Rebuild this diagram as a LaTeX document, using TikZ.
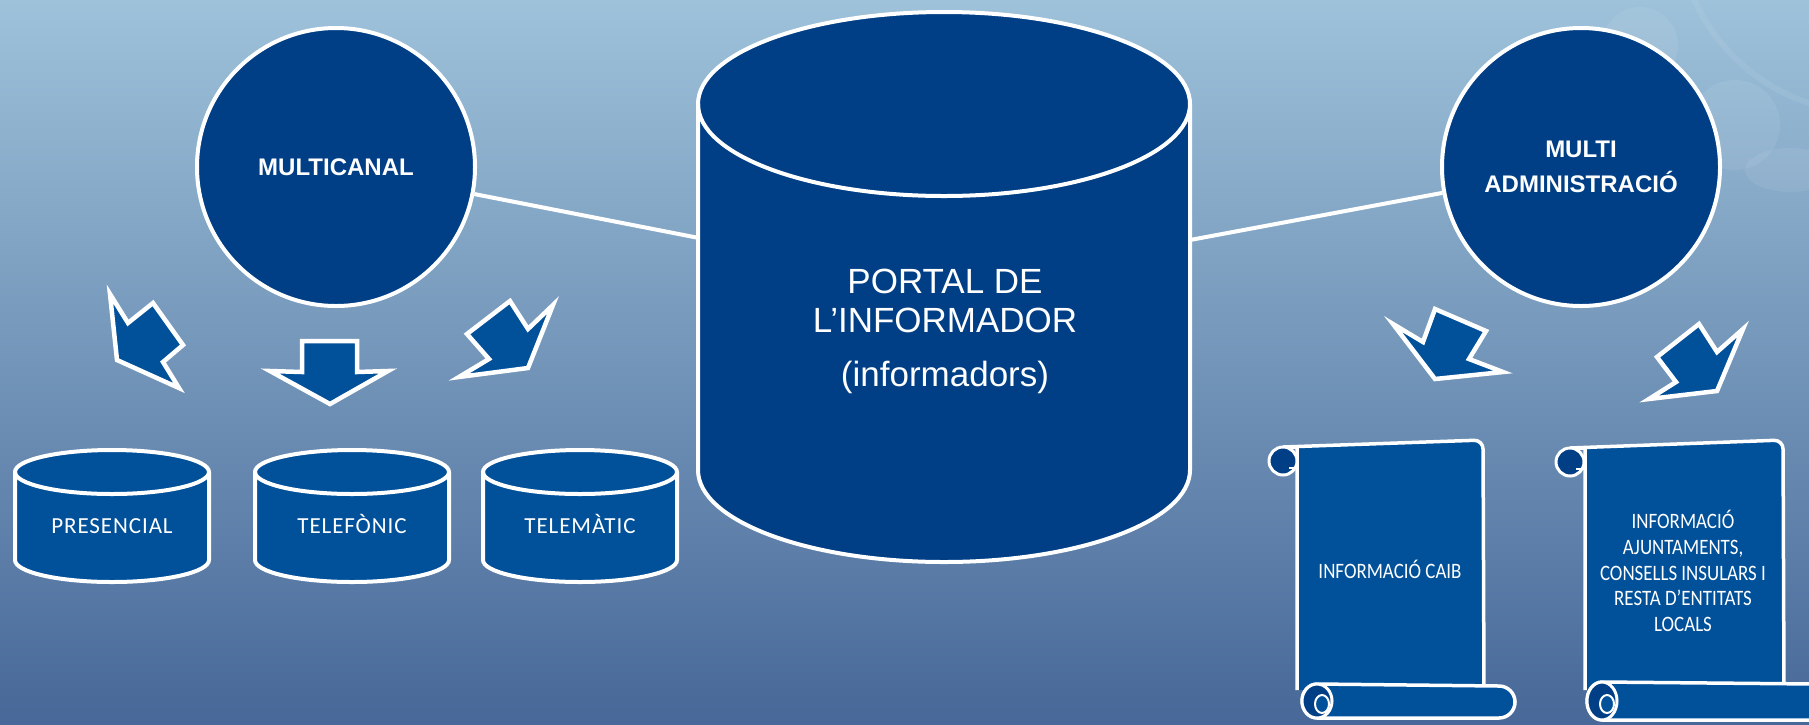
\documentclass[tikz,border=0pt]{standalone}
\usepackage{fontspec}
\setmainfont{Liberation Sans}
\newfontfamily\calibri{Carlito}
\newfontfamily\calibriample{Carlito}[LetterSpace=4]
\newfontfamily\calibriestret{Carlito}[FakeStretch=0.86]
\definecolor{fonsdalt}{HTML}{9EC2DA}
\definecolor{fonsbaix}{HTML}{476898}
\definecolor{blaufosc}{HTML}{003E86}
\definecolor{blau}{HTML}{00509A}
\tikzset{
  cercle/.style={circle, draw=white, line width=4pt, fill=blaufosc, minimum size=278pt,
    inner sep=0pt, text=white, align=center, font=\bfseries\fontsize{24}{35}\selectfont},
  enllac/.style={draw=white, line width=4pt},
  fletxa/.style={fill=blau, draw=white, line width=4.5pt, line join=miter},
  bidon/.style={fill=blau, draw=white, line width=4pt},
  vora/.style={draw=white, line width=4pt},
  rotlle/.style={fill=blau, draw=white, line width=3.5pt},
  espiral/.style={fill=blaufosc, draw=white, line width=3pt},
  marca/.style={white, opacity=0.07},
  etiqueta/.style={text=white, inner sep=0pt, font=\calibriample\fontsize{23}{26}\selectfont},
  rotlletext/.style={text=white, inner sep=0pt, align=center, font=\calibriestret\fontsize{22}{25.7}\selectfont},
  portaltext/.style={text=white, inner sep=0pt, align=center, font=\fontsize{35}{39}\selectfont}
}
\begin{document}
\begin{tikzpicture}[x=1pt, y=-1pt]
\useasboundingbox (0,0) rectangle (1809,724);
\fill[top color=fonsdalt, bottom color=fonsbaix] (0,0) rectangle (1809,724);
\draw[marca, line width=6pt] (1870,-80) circle[radius=193];
\fill[marca] (1640,45) circle[radius=38];
\fill[marca] (1735,125) circle[radius=45];
\fill[marca] (1790,170) ellipse[x radius=45, y radius=22];

\path[fill=blaufosc, draw=white, line width=4pt] (698,104) -- (698,470) arc[start angle=180, end angle=0, x radius=246, y radius=92] -- (1190,104) arc[start angle=0, end angle=-180, x radius=246, y radius=92] -- cycle;
\draw[vora] (698,104) arc[start angle=180, end angle=0, x radius=246, y radius=92];
\node[portaltext] (portal) at (945,331) {PORTAL DE\\L’INFORMADOR\\[15pt](informadors)};
\coordinate (portalW) at (699,238);
\coordinate (portalE) at (1190,240);

\node[cercle] (multicanal) at (336,167) {MULTICANAL};
\node[cercle] (multiadmin) at (1581,167) {MULTI\\ADMINISTRACIÓ};
\draw[enllac] (multicanal) -- (portalW);
\draw[enllac] (multiadmin) -- (portalE);

\path[bidon] (15,472) -- (15,560) arc[start angle=180, end angle=0, x radius=97, y radius=22] -- (209,472) arc[start angle=0, end angle=-180, x radius=97, y radius=22] -- cycle;
\draw[vora] (15,472) arc[start angle=180, end angle=0, x radius=97, y radius=22];
\node[etiqueta, anchor=base] (presencial) at (112,533) {PRESENCIAL};
\path[bidon] (255,472) -- (255,560) arc[start angle=180, end angle=0, x radius=97, y radius=22] -- (449,472) arc[start angle=0, end angle=-180, x radius=97, y radius=22] -- cycle;
\draw[vora] (255,472) arc[start angle=180, end angle=0, x radius=97, y radius=22];
\node[etiqueta, anchor=base] (telefonic) at (352,533) {TELEFÒNIC};
\path[bidon] (483,472) -- (483,560) arc[start angle=180, end angle=0, x radius=97, y radius=22] -- (677,472) arc[start angle=0, end angle=-180, x radius=97, y radius=22] -- cycle;
\draw[vora] (483,472) arc[start angle=180, end angle=0, x radius=97, y radius=22];
\node[etiqueta, anchor=base] (telematic) at (580,533) {TELEMÀTIC};

\draw[fletxa] (110,294) -- (128,323) -- (153,303) -- (183,345) -- (163,362) -- (179,388) -- (117,360) -- cycle;
\draw[fletxa] (302,341) -- (357,341) -- (357,372) -- (388,371) -- (330,404) -- (270,371) -- (302,372) -- cycle;
\draw[fletxa] (510,301) -- (528,329) -- (553,305) -- (528,368) -- (459,377) -- (489,359) -- (467,334) -- cycle;
\draw[fletxa] (1435,309) -- (1486,331) -- (1469,359) -- (1503,372) -- (1435,379) -- (1393,324) -- (1423,342) -- cycle;
\draw[fletxa] (1699,324) -- (1717,352) -- (1743,329) -- (1717,391) -- (1649,399) -- (1676,382) -- (1657,357) -- cycle;

\path[rotlle] (1297,690) -- (1297,447) -- (1283,447) [rounded corners=9pt] -- (1483,440) -- (1484,690);
\path[espiral] (1283,461) circle[radius=14];
\draw[white, line width=2.5pt] (1289,468) -- (1299,468);
\path[rotlle] (1317,684) -- (1499,686) arc[start angle=-90, end angle=90, radius=16] -- (1317,718) arc[start angle=90, end angle=270, x radius=15, y radius=17] -- cycle;
\path[espiral] (1317,701) ellipse[x radius=15, y radius=17];
\path[fill=blau, draw=white, line width=2pt] (1322,704) ellipse[x radius=7, y radius=9];
\node[rotlletext, anchor=base] (caib) at (1390,578) {INFORMACIÓ CAIB};

\path[rotlle] (1585,690) -- (1585,448) -- (1570,448) [rounded corners=9pt] -- (1783,440) -- (1784,690);
\path[espiral] (1570,462) circle[radius=14];
\draw[white, line width=2.5pt] (1576,469) -- (1586,469);
\path[rotlle] (1602,682) -- (1815,684) arc[start angle=-90, end angle=90, radius=18] -- (1602,720) arc[start angle=90, end angle=270, x radius=15, y radius=19] -- cycle;
\path[espiral] (1602,701) ellipse[x radius=15, y radius=19];
\path[fill=blau, draw=white, line width=2pt] (1607,704) ellipse[x radius=7, y radius=9];
\node[rotlletext] (locals) at (1683,571) {INFORMACIÓ\\AJUNTAMENTS,\\CONSELLS INSULARS I\\RESTA D’ENTITATS\\LOCALS};
\end{tikzpicture}
\end{document}
